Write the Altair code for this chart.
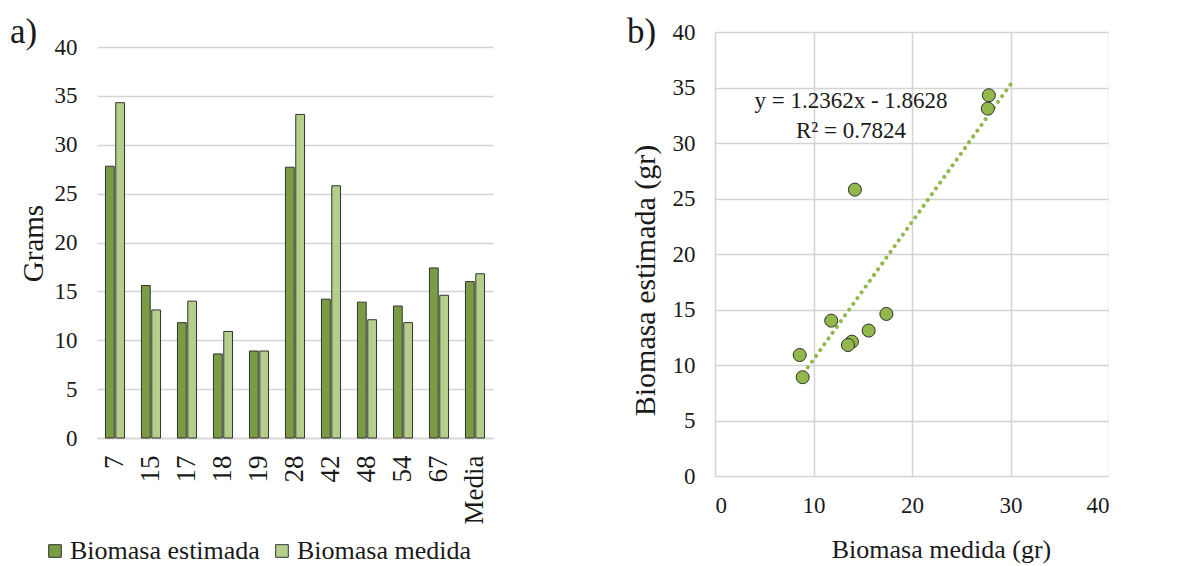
import altair as alt
import pandas as pd

# ---------------- data ----------------
categorias = ["7", "15", "17", "18", "19", "28", "42", "48", "54", "67", "Media"]
biomasa_estimada = [27.8, 15.6, 11.8, 8.6, 8.9, 27.7, 14.2, 13.9, 13.5, 17.4, 16.0]
biomasa_medida = [34.3, 13.1, 14.0, 10.9, 8.9, 33.1, 25.8, 12.1, 11.8, 14.6, 16.8]
series = ["Biomasa estimada", "Biomasa medida"]
colores = ["#7a9c44", "#b5cf8b"]
ticks_a = [0, 5, 10, 15, 20, 25, 30, 35, 40]
ticks_bx = [0, 10, 20, 30, 40]
ticks_by = [0, 5, 10, 15, 20, 25, 30, 35, 40]
ecuacion = "y = 1.2362x - 1.8628"
r2 = "R² = 0.7824"
trend_extent = [9, 30]

FONT = "Liberation Serif"
TXT = "#1a1a1a"
GRID = "#d4d4d4"

# ---------------- panel a ----------------
df_a = pd.DataFrame({
    "cat": categorias * 2,
    "serie": [series[0]] * len(categorias) + [series[1]] * len(categorias),
    "valor": biomasa_estimada + biomasa_medida,
})

bars = alt.Chart(df_a).mark_bar(stroke="#333333", strokeWidth=1).encode(
    x=alt.X("cat:N", sort=categorias,
            scale=alt.Scale(paddingInner=0.47, paddingOuter=0.235),
            axis=alt.Axis(title=None, labelAngle=-90, labelFontSize=27, labelPadding=17,
                          ticks=False, domainColor=GRID, domainWidth=1.5, grid=False,
                          labelColor=TXT)),
    xOffset=alt.XOffset("serie:N", sort=series,
                        scale=alt.Scale(paddingInner=0.15, paddingOuter=0)),
    y=alt.Y("valor:Q", scale=alt.Scale(domain=[0, 40], range=[406, 15]),
            axis=alt.Axis(values=ticks_a, title="Grams", titleFontSize=29, titleFontWeight="normal",
                          titlePadding=6, titleY=211, labelFontSize=23, labelPadding=20, ticks=False,
                          domain=False, gridColor=GRID, gridWidth=1.5,
                          labelColor=TXT, titleColor=TXT)),
    color=alt.Color("serie:N", sort=series,
                    scale=alt.Scale(domain=series, range=colores),
                    legend=alt.Legend(title=None, orient="none", direction="horizontal",
                                      legendX=-55, legendY=506,
                                      symbolType="square", symbolSize=160,
                                      symbolStrokeColor="#333333", symbolStrokeWidth=1,
                                      labelFontSize=26, labelColor=TXT, labelOffset=2,
                                      labelLimit=400, columnPadding=9, labelFont=FONT)),
)

lab_a = alt.Chart(pd.DataFrame({"t": ["a)"]})).mark_text(
    fontSize=35, align="left", baseline="alphabetic", color=TXT, font=FONT
).encode(x=alt.value(-87), y=alt.value(11), text="t:N")

panel_a = alt.layer(bars, lab_a).properties(width=396, height=406)

# ---------------- panel b ----------------
df_b = pd.DataFrame({
    "x": biomasa_estimada[:-1],
    "y": biomasa_medida[:-1],
})

xb = alt.X("x:Q", scale=alt.Scale(domain=[0, 40]),
           axis=alt.Axis(values=ticks_bx, title="Biomasa medida (gr)", titleFontSize=26,
                         titleFontWeight="normal", titlePadding=19, titleX=226,
                         labelFontSize=23, labelPadding=18, ticks=False, domain=False,
                         gridColor=GRID, gridWidth=1.5, labelColor=TXT, titleColor=TXT))
yb = alt.Y("y:Q", scale=alt.Scale(domain=[0, 40]),
           axis=alt.Axis(values=ticks_by, title="Biomasa estimada (gr)", titleFontSize=30,
                         titleFontWeight="normal", titlePadding=12, titleY=248,
                         labelFontSize=23, labelPadding=20, ticks=False, domain=False,
                         gridColor=GRID, gridWidth=1.5, labelColor=TXT, titleColor=TXT))

trend = alt.Chart(df_b).transform_regression(
    "x", "y", extent=trend_extent
).mark_line(color="#92b84c", strokeWidth=4, strokeDash=[0.1, 7], strokeCap="round").encode(
    x=xb, y=yb
)

pts = alt.Chart(df_b).mark_point(
    filled=True, shape="circle", size=170, fill="#92b84c", stroke="#2e2e2e",
    strokeWidth=1, opacity=1
).encode(x=xb, y=yb)

eq = alt.Chart(pd.DataFrame({"t": [ecuacion + "\n" + r2]})).mark_text(
    fontSize=23, align="center", baseline="alphabetic", color=TXT, font=FONT,
    lineBreak="\n", lineHeight=30
).encode(x=alt.value(136), y=alt.value(76), text="t:N")

lab_b = alt.Chart(pd.DataFrame({"t": ["b)"]})).mark_text(
    fontSize=35, align="left", baseline="alphabetic", color=TXT, font=FONT
).encode(x=alt.value(-88), y=alt.value(11), text="t:N")

panel_b = alt.layer(trend, pts, eq, lab_b).properties(width=394, height=444)

chart = alt.hconcat(panel_a, panel_b, spacing=134).configure(
    padding={"left": 10, "top": 15, "right": 0, "bottom": 0},
    background="white",
).configure_view(strokeWidth=0).configure_axis(
    labelFont=FONT, titleFont=FONT
).configure_text(font=FONT)

chart.save("out.html", embed_options={"renderer": "svg", "actions": False})
